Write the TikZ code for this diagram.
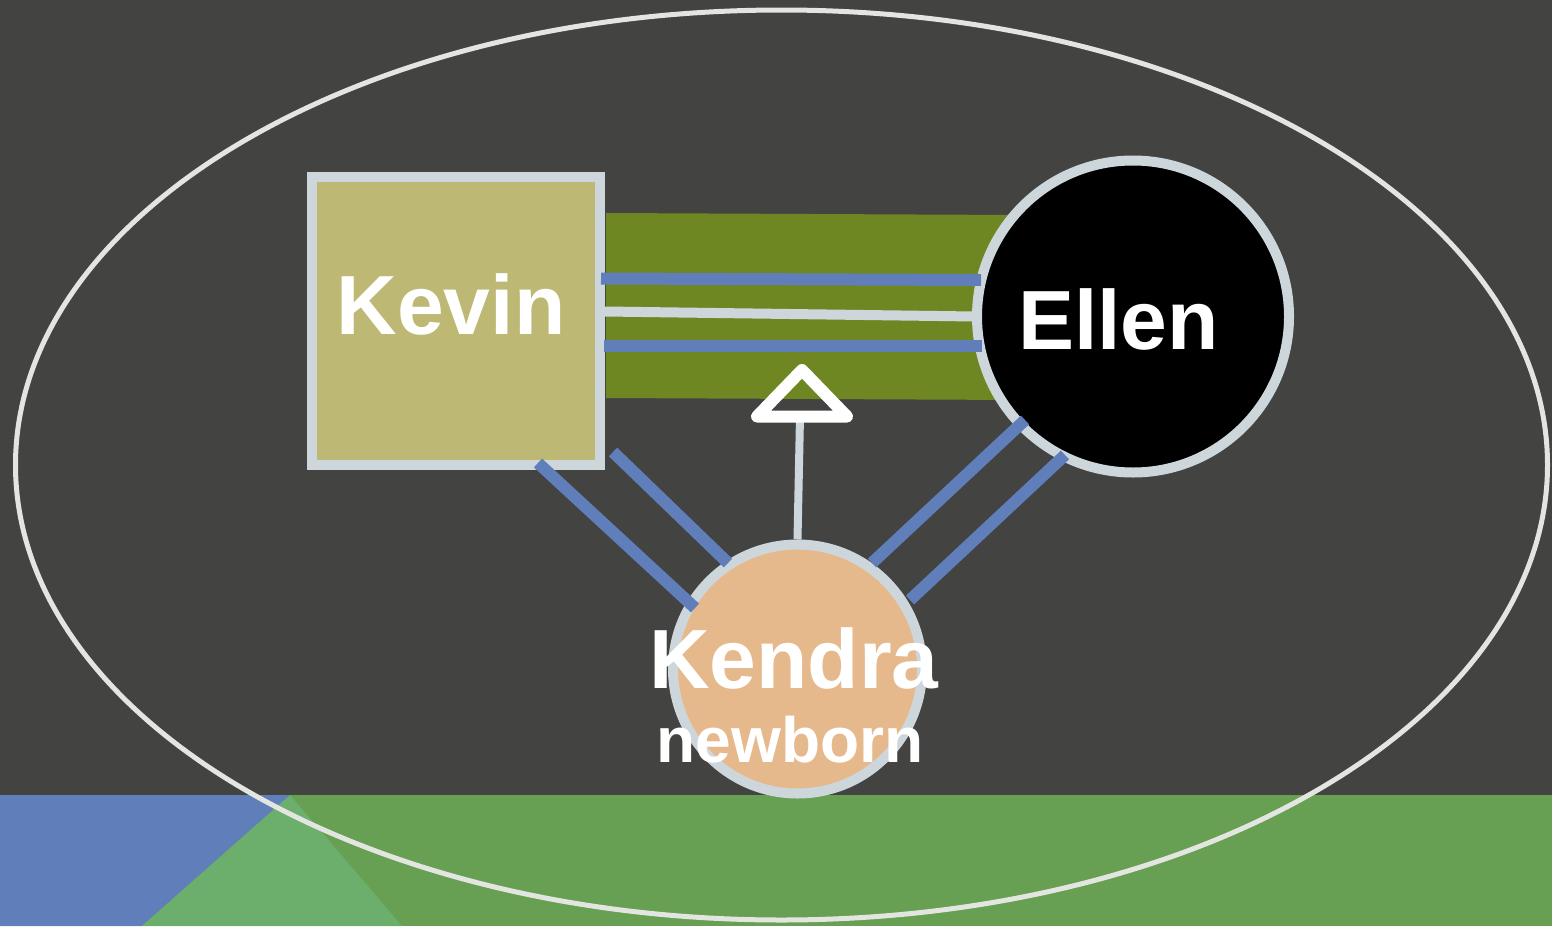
\documentclass[tikz,border=0pt]{standalone}
\usepackage{fontspec}
\setmainfont{Liberation Sans}
\usetikzlibrary{calc}

\definecolor{bgdark}{HTML}{434341}
\definecolor{lawn}{HTML}{67A052}
\definecolor{lawnlight}{HTML}{6CAE6C}
\definecolor{tieblue}{HTML}{5F7EBA}
\definecolor{paleedge}{HTML}{CDD7DB}
\definecolor{rimgray}{HTML}{E3E5E1}
\definecolor{bandgreen}{HTML}{6E8722}
\definecolor{kevinfill}{HTML}{BDB974}
\definecolor{kendrafill}{HTML}{E6B98C}

\begin{document}
\begin{tikzpicture}[x=0.5pt, y=-0.5pt,
    person/.style={draw=paleedge, line width=5pt, inner sep=0pt},
    nametag/.style={text=white, inner sep=0pt, font=\bfseries\fontsize{42}{45}\selectfont},
    tie/.style={draw=tieblue, line width=6pt},
    link/.style={draw=paleedge, line width=5pt}]
        % backdrop
        \fill[bgdark] (0,0) rectangle (1552,926);
        \fill[lawn] (0,795) rectangle (1552,926);
        \fill[tieblue] (0,795) -- (290,795) -- (142,926) -- (0,926) -- cycle;
        \fill[lawnlight] (290,795) -- (142,926) -- (402,926) -- cycle;
        \draw[rimgray, line width=2.5pt] (781.5,465) ellipse [x radius=766, y radius=455];
        \useasboundingbox (0,0) rectangle (1552,926);

        % marriage band
        \fill[bandgreen] (606,213) -- (1020,215) -- (1020,400) -- (606,398) -- cycle;

        \node[person, rectangle, fill=kevinfill, minimum size=144pt] (kevin) at (456,321) {};
        \node[person, circle, fill=black, minimum size=156pt] (ellen) at (1133,316.5) {};
        \node[person, circle, fill=kendrafill, minimum size=124.5pt] (kendra) at (797.5,669) {};

        \draw[tie] ($(kevin)+(145,-42.5)$) -- ($(ellen)+(-152,-36.5)$);
        \draw[link] ($(kevin)+(149,-9.5)$) -- ($(ellen)+(-158,0)$);
        \draw[tie] ($(kevin)+(148,24.5)$) -- ($(ellen)+(-151,29)$);

        \draw[tie] ($(kevin)+(82,142)$) -- ($(kendra)+(-102.5,-61)$);
        \draw[tie] ($(kevin)+(157,131)$) -- ($(kendra)+(-69.5,-106)$);
        \draw[tie] ($(kendra)+(74.5,-106)$) -- ($(ellen)+(-108,103.5)$);
        \draw[tie] ($(kendra)+(112.5,-69)$) -- ($(ellen)+(-68,138.5)$);

        % child line
        \coordinate (apex) at (802,370);
        \draw[link, line width=4pt] (kendra.north) -- ($(apex)+(-2,46.5)$);
        \draw[white, line width=6pt, line join=round] (apex) -- ++(-45,46.5) -- ++(90,0) -- cycle;

        \node[nametag] (kevinname) at ($(kevin)+(-5,-17)$) {Kevin};
        \node[nametag] (ellenname) at ($(ellen)+(-14.5,2.5)$) {Ellen};
        \node[nametag] (kendraname) at ($(kendra)+(-3.5,-10.5)$) {Kendra};
        \node[nametag, font=\bfseries\fontsize{32}{34}\selectfont] (kendranote) at ($(kendra)+(-7.5,70.5)$) {newborn};
      \end{tikzpicture}
\end{document}
